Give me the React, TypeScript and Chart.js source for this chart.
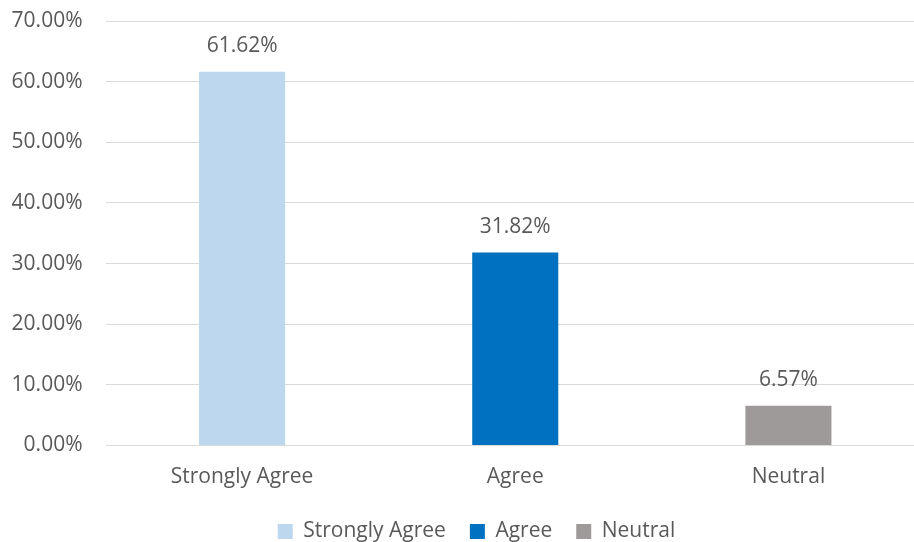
import React, { useEffect, useRef } from "react";
import { Chart, registerables } from "chart.js";

Chart.register(...registerables);

// Survey response shares (percent)
const categories = ["Strongly Agree", "Agree", "Neutral"];
const shares = [61.62, 31.82, 6.57];
const barColors = ["#BDD7EE", "#0070C0", "#9E9A99"];
const yTicks = [0, 10, 20, 30, 40, 50, 60, 70];

const FONT = "'Open Sans', sans-serif";
const TEXT = "#595959";
const FONT_SIZE = 21;

const valueLabels = {
  id: "valueLabels",
  afterDatasetsDraw(chart: any) {
    const ctx = chart.ctx;
    const meta = chart.getDatasetMeta(0);
    ctx.save();
    ctx.font = `${FONT_SIZE}px ${FONT}`;
    ctx.fillStyle = TEXT;
    ctx.textAlign = "center";
    ctx.textBaseline = "middle";
    meta.data.forEach((bar: any, i: number) => {
      ctx.fillText(shares[i].toFixed(2) + "%", bar.x, bar.y - 26);
    });
    ctx.restore();
  },
};

// center the legend under the visible part of the chart
const legendShift = {
  id: "legendShift",
  afterLayout(chart: any) {
    const lg = chart.legend;
    if (lg) {
      lg.left += 14;
      lg.right += 14;
    }
  },
};

export default function App() {
  const ref = useRef<HTMLCanvasElement>(null);

  useEffect(() => {
    const canvas = ref.current!;
    const chart = new Chart(canvas, {
      type: "bar",
      data: {
        labels: categories,
        datasets: [
          {
            data: shares,
            backgroundColor: barColors,
            categoryPercentage: 0.315,
            barPercentage: 1,
          },
        ],
      },
      options: {
        responsive: false,
        animation: false,
        layout: { padding: { top: 21, right: 0, left: 0, bottom: -10 } },
        plugins: {
          tooltip: { enabled: false },
          legend: {
            position: "bottom",
            labels: {
              boxWidth: 15,
              boxHeight: 15,
              padding: 24,
              color: TEXT,
              font: { family: FONT, size: FONT_SIZE },
              generateLabels: () =>
                categories.map((c, i) => ({
                  text: c,
                  fillStyle: barColors[i],
                  strokeStyle: barColors[i],
                  lineWidth: 0,
                  hidden: false,
                  index: i,
                  fontColor: TEXT,
                })),
            },
          },
        },
        scales: {
          x: {
            grid: { display: false, drawTicks: false },
            border: { display: false },
            ticks: {
              color: TEXT,
              font: { family: FONT, size: FONT_SIZE },
              padding: 19,
            },
            afterFit: (s: any) => {
              s.height = 51.5;
            },
          },
          y: {
            min: 0,
            max: 70,
            afterBuildTicks: (s: any) => {
              s.ticks = yTicks.map((v) => ({ value: v }));
            },
            grid: { color: "#D9D9D9", lineWidth: 1, drawTicks: false },
            border: { display: false },
            ticks: {
              color: TEXT,
              font: { family: FONT, size: FONT_SIZE },
              padding: 23,
              callback: (v: any) => Number(v).toFixed(2) + "%",
            },
            afterFit: (s: any) => {
              s.width = 105.5;
              s.paddingTop = 0;
              s.paddingBottom = 0;
            },
          },
        },
      },
      plugins: [valueLabels, legendShift],
    });
    return () => chart.destroy();
  }, []);

  return (
    <div
      style={{
        position: "fixed",
        left: 0,
        top: 0,
        width: 914,
        height: 542,
        overflow: "hidden",
        background: "#fff",
      }}
    >
      <canvas ref={ref} width={925} height={542} style={{ display: "block" }} />
    </div>
  );
}
